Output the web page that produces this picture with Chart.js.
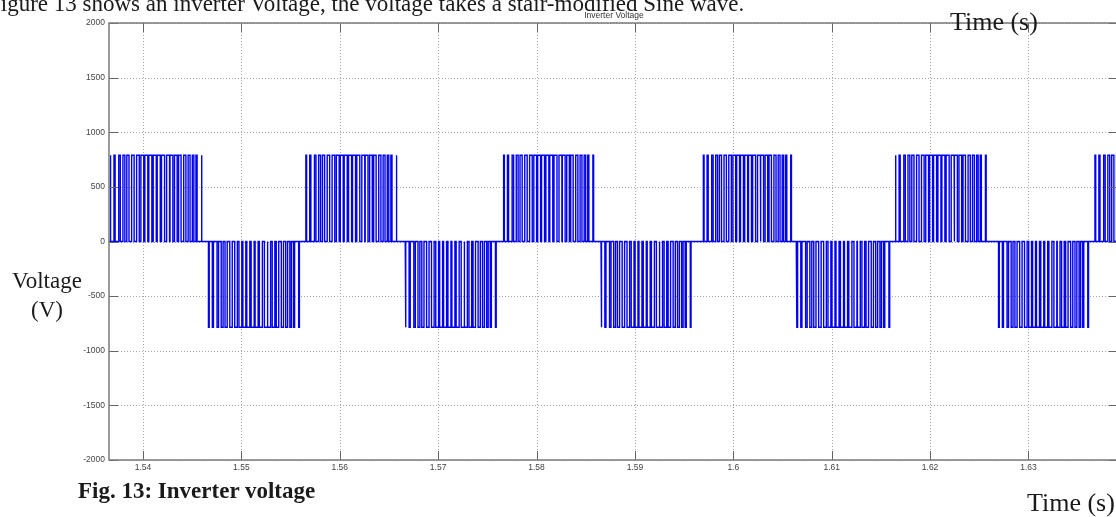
<!DOCTYPE html>
<html>
<head>
  <meta charset="UTF-8" />
  <title>Inverter Voltage</title>
  <script src="https://cdn.jsdelivr.net/npm/chart.js"></script>
  <style>
    body { margin: 0; width: 1116px; height: 517px; overflow: hidden; background: #fff; position: relative; font-family: 'Liberation Serif', 'Times New Roman', serif; }
    .chart-box { position: absolute; left: 0; top: 0; width: 1124px; height: 517px; }
    .txt { position: absolute; white-space: nowrap; color: #1a1a1a; line-height: 1; }
    #intro { left: -12px; top: -8px; font-size: 23px; }
    #plotTitle { left: 564px; width: 100px; top: 11px; text-align: center; font-family: 'Liberation Sans', Arial, sans-serif; font-size: 8.5px; color: #333; }
    #timeTop { left: 950px; top: 9px; font-size: 26px; }
    #ylab { left: 0; width: 94px; top: 266px; font-size: 23px; line-height: 29px; text-align: center; }
    #caption { left: 78px; top: 479px; font-size: 23px; font-weight: bold; }
    #timeBottom { left: 1027px; top: 490px; font-size: 26px; }
  </style>
</head>
<body>
  <div class="chart-box"><canvas id="voltChart"></canvas></div>
  <div class="txt" id="intro">Figure 13 shows an inverter Voltage, the voltage takes a stair-modified Sine wave.</div>
  <div class="txt" id="plotTitle">Inverter Voltage</div>
  <div class="txt" id="timeTop">Time (s)</div>
  <div class="txt" id="ylab">Voltage<br>(V)</div>
  <div class="txt" id="caption">Fig. 13: Inverter voltage</div>
  <div class="txt" id="timeBottom">Time (s)</div>

  <script>
    const xTicks = [1.54, 1.55, 1.56, 1.57, 1.58, 1.59, 1.6, 1.61, 1.62, 1.63];
    const yTicks = [-2000, -1500, -1000, -500, 0, 500, 1000, 1500, 2000];

    // half-cycle blocks (s) and their level (V)
    const halfStart = [1.5366, 1.5466, 1.5565, 1.5666, 1.5766, 1.5865, 1.5969, 1.6064, 1.6164, 1.6269, 1.6367];
    const halfEnd   = [1.5463, 1.5562, 1.5661, 1.5762, 1.5861, 1.5960, 1.6062, 1.6162, 1.6260, 1.6364, 1.6464];
    const halfLevel = [790, -785, 790, -785, 790, -785, 790, -785, 790, -785, 790];

    // PWM pulses inside one half-cycle (fraction of the half-cycle)
    const pulseCenter = [0.010, 0.053, 0.105, 0.151, 0.193, 0.245, 0.298, 0.344, 0.386, 0.428, 0.474,
                         0.516, 0.561, 0.614, 0.649, 0.695, 0.737, 0.789, 0.834, 0.876, 0.912, 0.965];
    const pulseWidth  = [0.008, 0.012, 0.016, 0.020, 0.023, 0.026, 0.028, 0.030, 0.031, 0.032, 0.032,
                         0.032, 0.032, 0.031, 0.030, 0.028, 0.026, 0.023, 0.020, 0.016, 0.012, 0.008];

    const points = [{ x: 1.5360, y: 0 }];
    halfStart.forEach((t0, i) => {
      const len = halfEnd[i] - t0;
      const v = halfLevel[i];
      points.push({ x: t0, y: 0 });
      pulseCenter.forEach((c, k) => {
        const a = t0 + (c - pulseWidth[k] / 2) * len;
        const b = t0 + (c + pulseWidth[k] / 2) * len;
        points.push({ x: a, y: 0 }, { x: a, y: v }, { x: b, y: v }, { x: b, y: 0 });
      });
      points.push({ x: halfEnd[i], y: 0 });
    });

    // dotted grid under the trace, frame and inward ticks over it
    const scopeFrame = {
      id: 'scopeFrame',
      beforeDatasetsDraw(chart) {
        const { ctx, chartArea: a, scales: { x, y } } = chart;
        ctx.save();
        ctx.strokeStyle = '#a8a8a8';
        ctx.lineWidth = 1;
        ctx.setLineDash([1, 2]);
        ctx.beginPath();
        xTicks.forEach(v => {
          const px = Math.round(x.getPixelForValue(v)) + 0.5;
          ctx.moveTo(px, a.top); ctx.lineTo(px, a.bottom);
        });
        yTicks.forEach(v => {
          const py = Math.round(y.getPixelForValue(v)) + 0.5;
          ctx.moveTo(a.left, py); ctx.lineTo(a.right, py);
        });
        ctx.stroke();
        ctx.restore();
      },
      afterDatasetsDraw(chart) {
        const { ctx, chartArea: a, scales: { x, y } } = chart;
        ctx.save();
        ctx.strokeStyle = '#666';
        ctx.lineWidth = 1;
        ctx.beginPath();
        xTicks.forEach(v => {
          const px = Math.round(x.getPixelForValue(v)) + 0.5;
          ctx.moveTo(px, a.top); ctx.lineTo(px, a.top + 9);
          ctx.moveTo(px, a.bottom); ctx.lineTo(px, a.bottom - 9);
        });
        yTicks.forEach(v => {
          const py = Math.round(y.getPixelForValue(v)) + 0.5;
          ctx.moveTo(a.left, py); ctx.lineTo(a.left + 9, py);
          ctx.moveTo(a.right, py); ctx.lineTo(a.right - 9, py);
        });
        ctx.stroke();
        ctx.strokeStyle = '#7a7a7a';
        ctx.lineWidth = 1.5;
        ctx.strokeRect(a.left, a.top, a.right - a.left, a.bottom - a.top);
        ctx.restore();
      }
    };

    const tickFont = { family: "'Liberation Sans', Arial, sans-serif", size: 8.5 };

    new Chart(document.getElementById('voltChart'), {
      type: 'line',
      data: {
        datasets: [{
          label: 'Inverter Voltage',
          data: points,
          borderColor: '#0000f0',
          borderWidth: 1.4,
          pointRadius: 0,
          tension: 0,
          fill: false
        }]
      },
      options: {
        responsive: true,
        maintainAspectRatio: false,
        animation: false,
        layout: { padding: { left: 0, top: 23, right: 6, bottom: 0 } },
        plugins: { legend: { display: false }, tooltip: { enabled: false } },
        scales: {
          x: {
            type: 'linear',
            min: 1.53655,
            max: 1.6391,
            grid: { display: false, drawTicks: false },
            border: { display: false },
            afterFit: s => { s.height = 57; },
            afterBuildTicks: s => { s.ticks = xTicks.map(v => ({ value: v })); },
            ticks: { font: tickFont, color: '#444', padding: 3, maxRotation: 0, autoSkip: false,
                     callback: v => String(v) }
          },
          y: {
            min: -2000,
            max: 2000,
            grid: { display: false, drawTicks: false },
            border: { display: false },
            afterFit: s => { s.width = 109; },
            afterBuildTicks: s => { s.ticks = yTicks.map(v => ({ value: v })); },
            ticks: { font: tickFont, color: '#444', padding: 4, callback: v => String(v) }
          }
        }
      },
      plugins: [scopeFrame]
    });
  </script>
</body>
</html>
